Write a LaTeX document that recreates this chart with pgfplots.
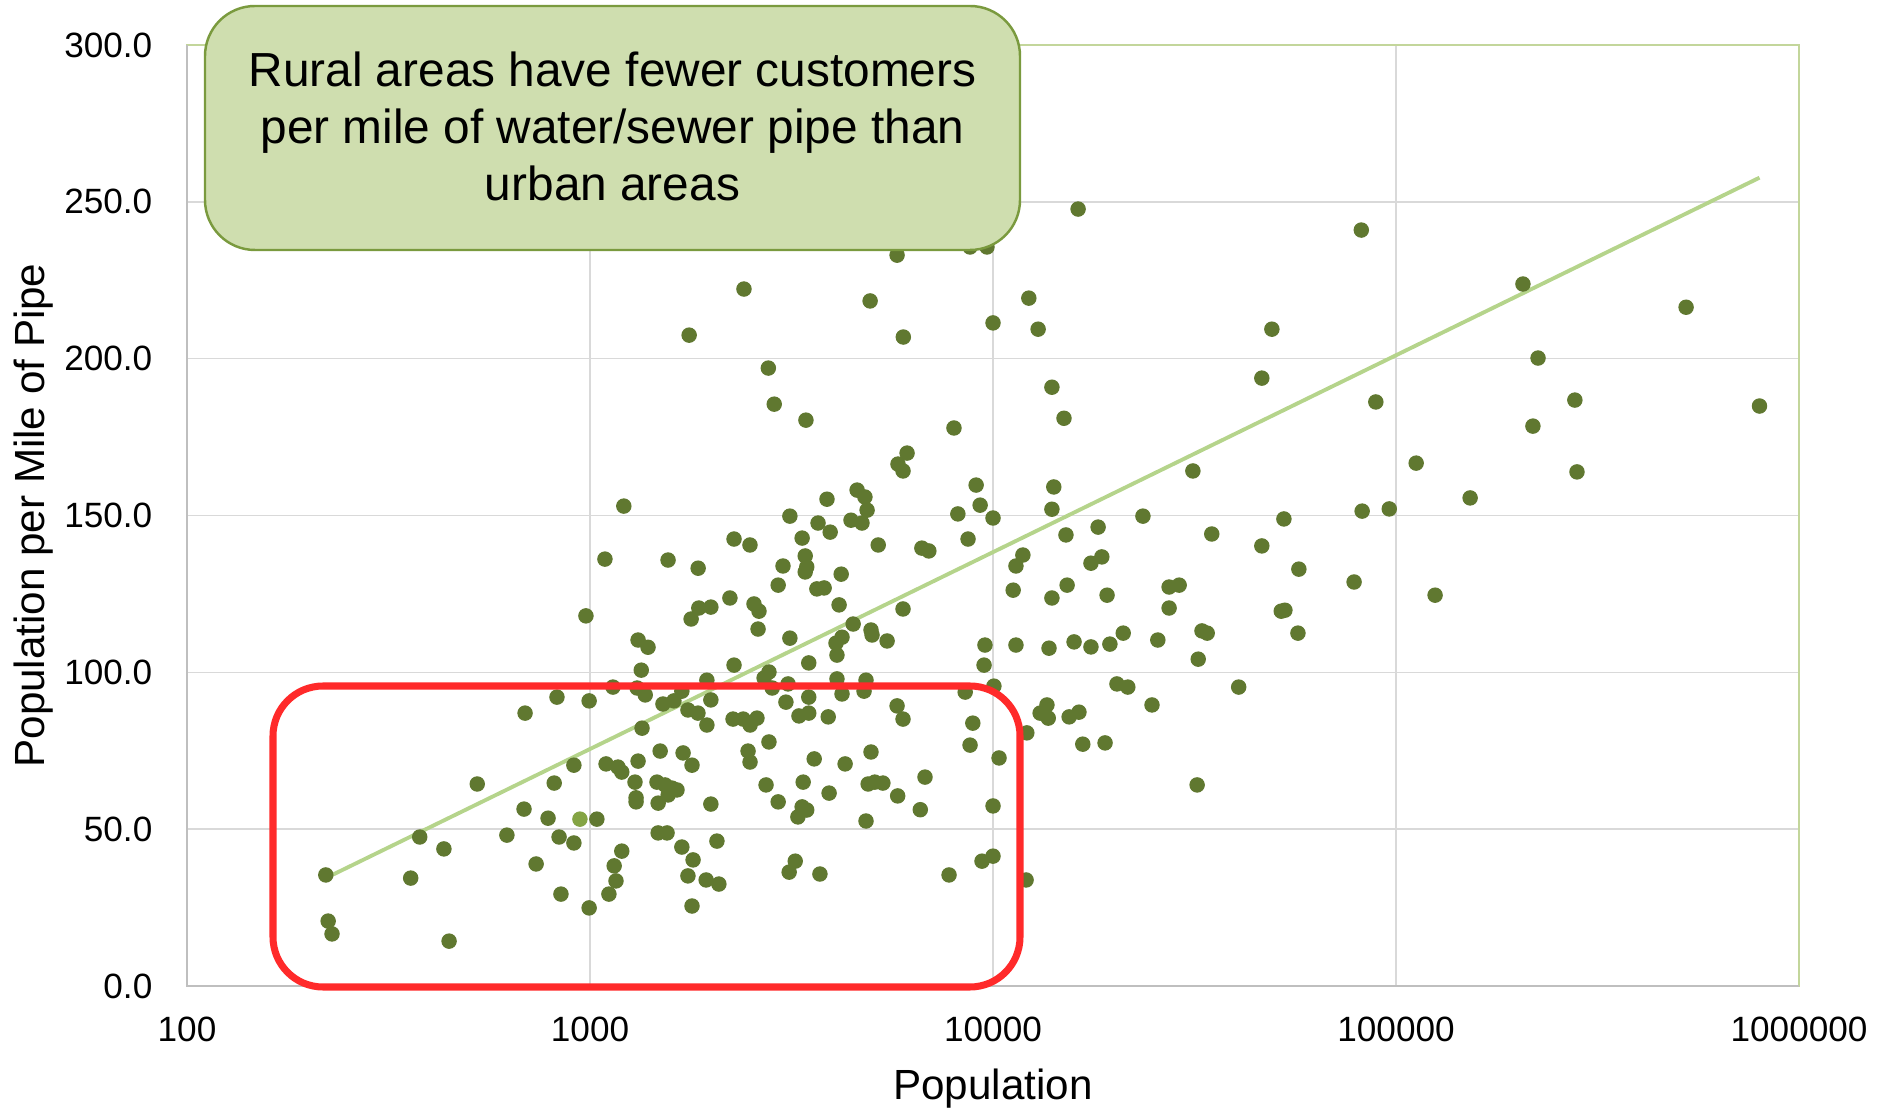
\documentclass[border=0pt]{standalone}
\usepackage{fontspec}
\setmainfont{Liberation Sans}
\usepackage{pgfplots}
\usepackage{pgfplotstable}
\pgfplotsset{compat=1.18}
\definecolor{dotgreen}{HTML}{607830}
\definecolor{lightdot}{HTML}{84A444}
\definecolor{trend}{HTML}{B5D48B}
\definecolor{gridgray}{HTML}{D9D9D9}
\definecolor{axgray}{HTML}{BFBFBF}
\definecolor{framegreen}{HTML}{C3D69B}
\definecolor{calloutfill}{HTML}{CFDEAF}
\definecolor{calloutdraw}{HTML}{7A9A3E}
\definecolor{redbox}{HTML}{FF2A2A}

\pgfplotstableread{
x y
977 118.0
1316 110.3
1393 108.0
1340 100.7
1140 95.3
1309 95.0
1371 92.8
828 92.1
995 90.9
690 87.0
1346 82.2
525 64.4
912 70.4
1096 70.8
1173 69.8
1199 68.2
1316 71.7
1293 65.0
1301 60.0
1301 58.7
815 64.7
686 56.4
787 53.5
1040 53.2
378 47.5
434 43.7
622 48.1
838 47.5
912 45.6
1199 43.0
1148 38.3
1160 33.5
1114 29.3
735 38.9
847 29.3
995 24.9
221 35.4
359 34.4
224 20.7
229 16.6
447 14.3
6120 169.9
5810 166.4
5980 164.2
1213 153.0
3873 155.2
4600 158.1
4810 155.9
4870 151.7
3133 149.8
3680 147.6
3944 144.7
4442 148.5
4730 147.6
1089 136.1
1562 135.8
1855 133.2
2277 142.5
2494 140.6
3360 142.8
3420 137.1
3450 133.6
3420 132.0
3012 133.9
2930 127.8
3656 126.6
3810 126.9
4200 131.3
5190 140.6
2224 123.7
2552 121.8
2626 119.5
1862 120.5
1995 120.8
1782 117.0
2612 113.8
4150 121.5
5980 120.2
4497 115.4
4980 113.5
5010 111.9
5460 110.0
3133 110.9
4220 111.2
4077 109.3
4100 105.5
3490 103.0
2277 102.3
2780 100.1
2704 98.2
3100 96.3
2832 95.0
1950 97.5
4100 97.9
4840 97.5
4220 93.1
4786 94.0
1690 94.0
1517 89.9
1615 90.9
1750 88.0
1853 87.0
1995 91.2
1950 83.2
2264 85.1
2400 85.1
2496 83.2
2596 85.4
3063 90.5
3490 92.1
3300 86.1
3490 87.0
3900 85.8
5780 89.3
5980 85.1
2780 77.8
1493 74.9
1702 74.3
1791 70.4
1466 65.0
1535 64.1
1597 63.1
1644 62.5
1563 60.9
1476 58.3
1995 58.0
2467 74.9
2495 71.4
2734 64.1
2930 58.7
3380 65.0
3600 72.4
3920 61.5
4295 70.8
3360 57.1
3450 56.1
3280 53.9
4980 74.6
4900 64.4
5090 65.0
5330 64.7
5800 60.6
6600 56.2
4840 52.6
1476 48.8
1553 48.8
1690 44.3
2065 46.2
1802 40.2
1750 35.1
1942 33.8
2088 32.5
1791 25.5
3230 39.8
3120 36.3
3720 35.7
6780 66.6
16260 247.7
5780 233.0
8770 235.6
9660 235.6
2410 222.2
4955 218.4
12270 219.3
10000 211.4
12940 209.4
1762 207.5
5990 206.9
2770 197.0
2865 185.5
3434 180.4
8000 177.9
14000 190.9
15000 181.0
9080 159.7
9290 153.3
8180 150.5
10000 149.2
8670 142.5
6660 139.6
6930 138.7
14150 159.1
14000 152.0
31330 164.2
23550 149.8
34900 144.1
15170 143.8
18230 146.3
11860 137.4
11400 133.9
17500 134.8
18620 136.8
11220 126.2
14000 123.7
15270 127.8
19190 124.6
27350 127.2
28970 127.8
27350 120.5
21040 112.5
25640 110.3
33000 113.2
34000 112.5
32300 104.2
9550 108.7
9500 102.3
11400 108.7
13770 107.7
15890 109.7
17500 108.1
19500 109.0
10050 95.6
8530 93.7
8910 83.8
8770 76.8
20300 96.3
21600 95.3
24800 89.6
13090 87.0
13610 89.6
13710 85.4
15450 85.8
16340 87.3
12130 80.7
16700 77.1
18970 77.5
10350 72.7
10000 57.4
9390 39.8
10000 41.4
7780 35.4
12080 33.8
32100 64.1
82000 241.0
49200 209.4
46450 193.8
89100 186.2
206500 223.8
524500 216.4
225100 200.2
277800 186.8
218600 178.5
798000 184.9
112200 166.7
281200 163.9
152700 155.6
96200 152.1
82400 151.4
52700 148.9
46450 140.3
57400 132.9
78700 128.8
125000 124.6
51900 119.5
53000 119.8
57100 112.5
40700 95.3
}\dotdata

\begin{document}
\begin{tikzpicture}
\useasboundingbox (0,0) rectangle (189.3mm,110.8mm);
\begin{axis}[
  name=ax,
  at={(18.7mm,12.2mm)}, anchor=south west,
  scale only axis, width=161.2mm, height=94.1mm,
  xmode=log, xmin=100, xmax=1000000, ymin=0, ymax=300,
  xtick={100,1000,10000,100000,1000000},
  xticklabels={100,1000,10000,100000,1000000},
  ytick={0,50,100,150,200,250,300},
  yticklabels={0.0,50.0,100.0,150.0,200.0,250.0,300.0},
  major tick length=0pt, minor tick length=0pt,
  tick style={draw=none},
  xmajorgrids, ymajorgrids,
  grid style={gridgray, line width=0.45pt},
  axis line style={framegreen, line width=0.7pt},
  tick label style={font=\fontsize{10}{12}\selectfont, text=black},
  xticklabel style={anchor=north, inner sep=0pt, yshift=-3.0mm},
  yticklabel style={anchor=east, inner sep=0pt, xshift=-3.4mm},
  xlabel={Population}, ylabel={Population per Mile of Pipe},
  label style={font=\fontsize{12}{14}\selectfont},
  xlabel style={at={(axis description cs:0.5,-0.1205)}, anchor=base},
  ylabel style={at={(axis description cs:-0.0887,0.5)}, anchor=base},
]
\addplot[only marks, color=dotgreen, mark=*, mark size=0.72mm, mark options={draw=dotgreen, fill=dotgreen, line width=0.3pt}] table {\dotdata};
\addplot[only marks, color=lightdot, mark=*, mark size=0.72mm, mark options={draw=lightdot, fill=lightdot, line width=0.3pt}] coordinates {(944,53.2)};
\addplot[trend, line width=1.1pt, no marks] coordinates {(221,34.4) (798000,257.7)};
\end{axis}
\draw[axgray, line width=0.8pt] (ax.north west) -- (ax.south west) -- (ax.south east);
\draw[calloutdraw, fill=calloutfill, line width=0.7pt, rounded corners=5mm] (20.5mm,110.2mm) rectangle (102.0mm,85.8mm);
\node[anchor=base, inner sep=0pt, font=\fontsize{13.6}{16}\selectfont] at (61.25mm,102.1mm) {Rural areas have fewer customers};
\node[anchor=base, inner sep=0pt, font=\fontsize{13.6}{16}\selectfont] at (61.25mm,96.4mm) {per mile of water/sewer pipe than};
\node[anchor=base, inner sep=0pt, font=\fontsize{13.6}{16}\selectfont] at (61.25mm,90.7mm) {urban areas};
\draw[redbox, line width=2pt, rounded corners=5mm] (27.3mm,42.2mm) rectangle (102.0mm,12.1mm);
\end{tikzpicture}
\end{document}
